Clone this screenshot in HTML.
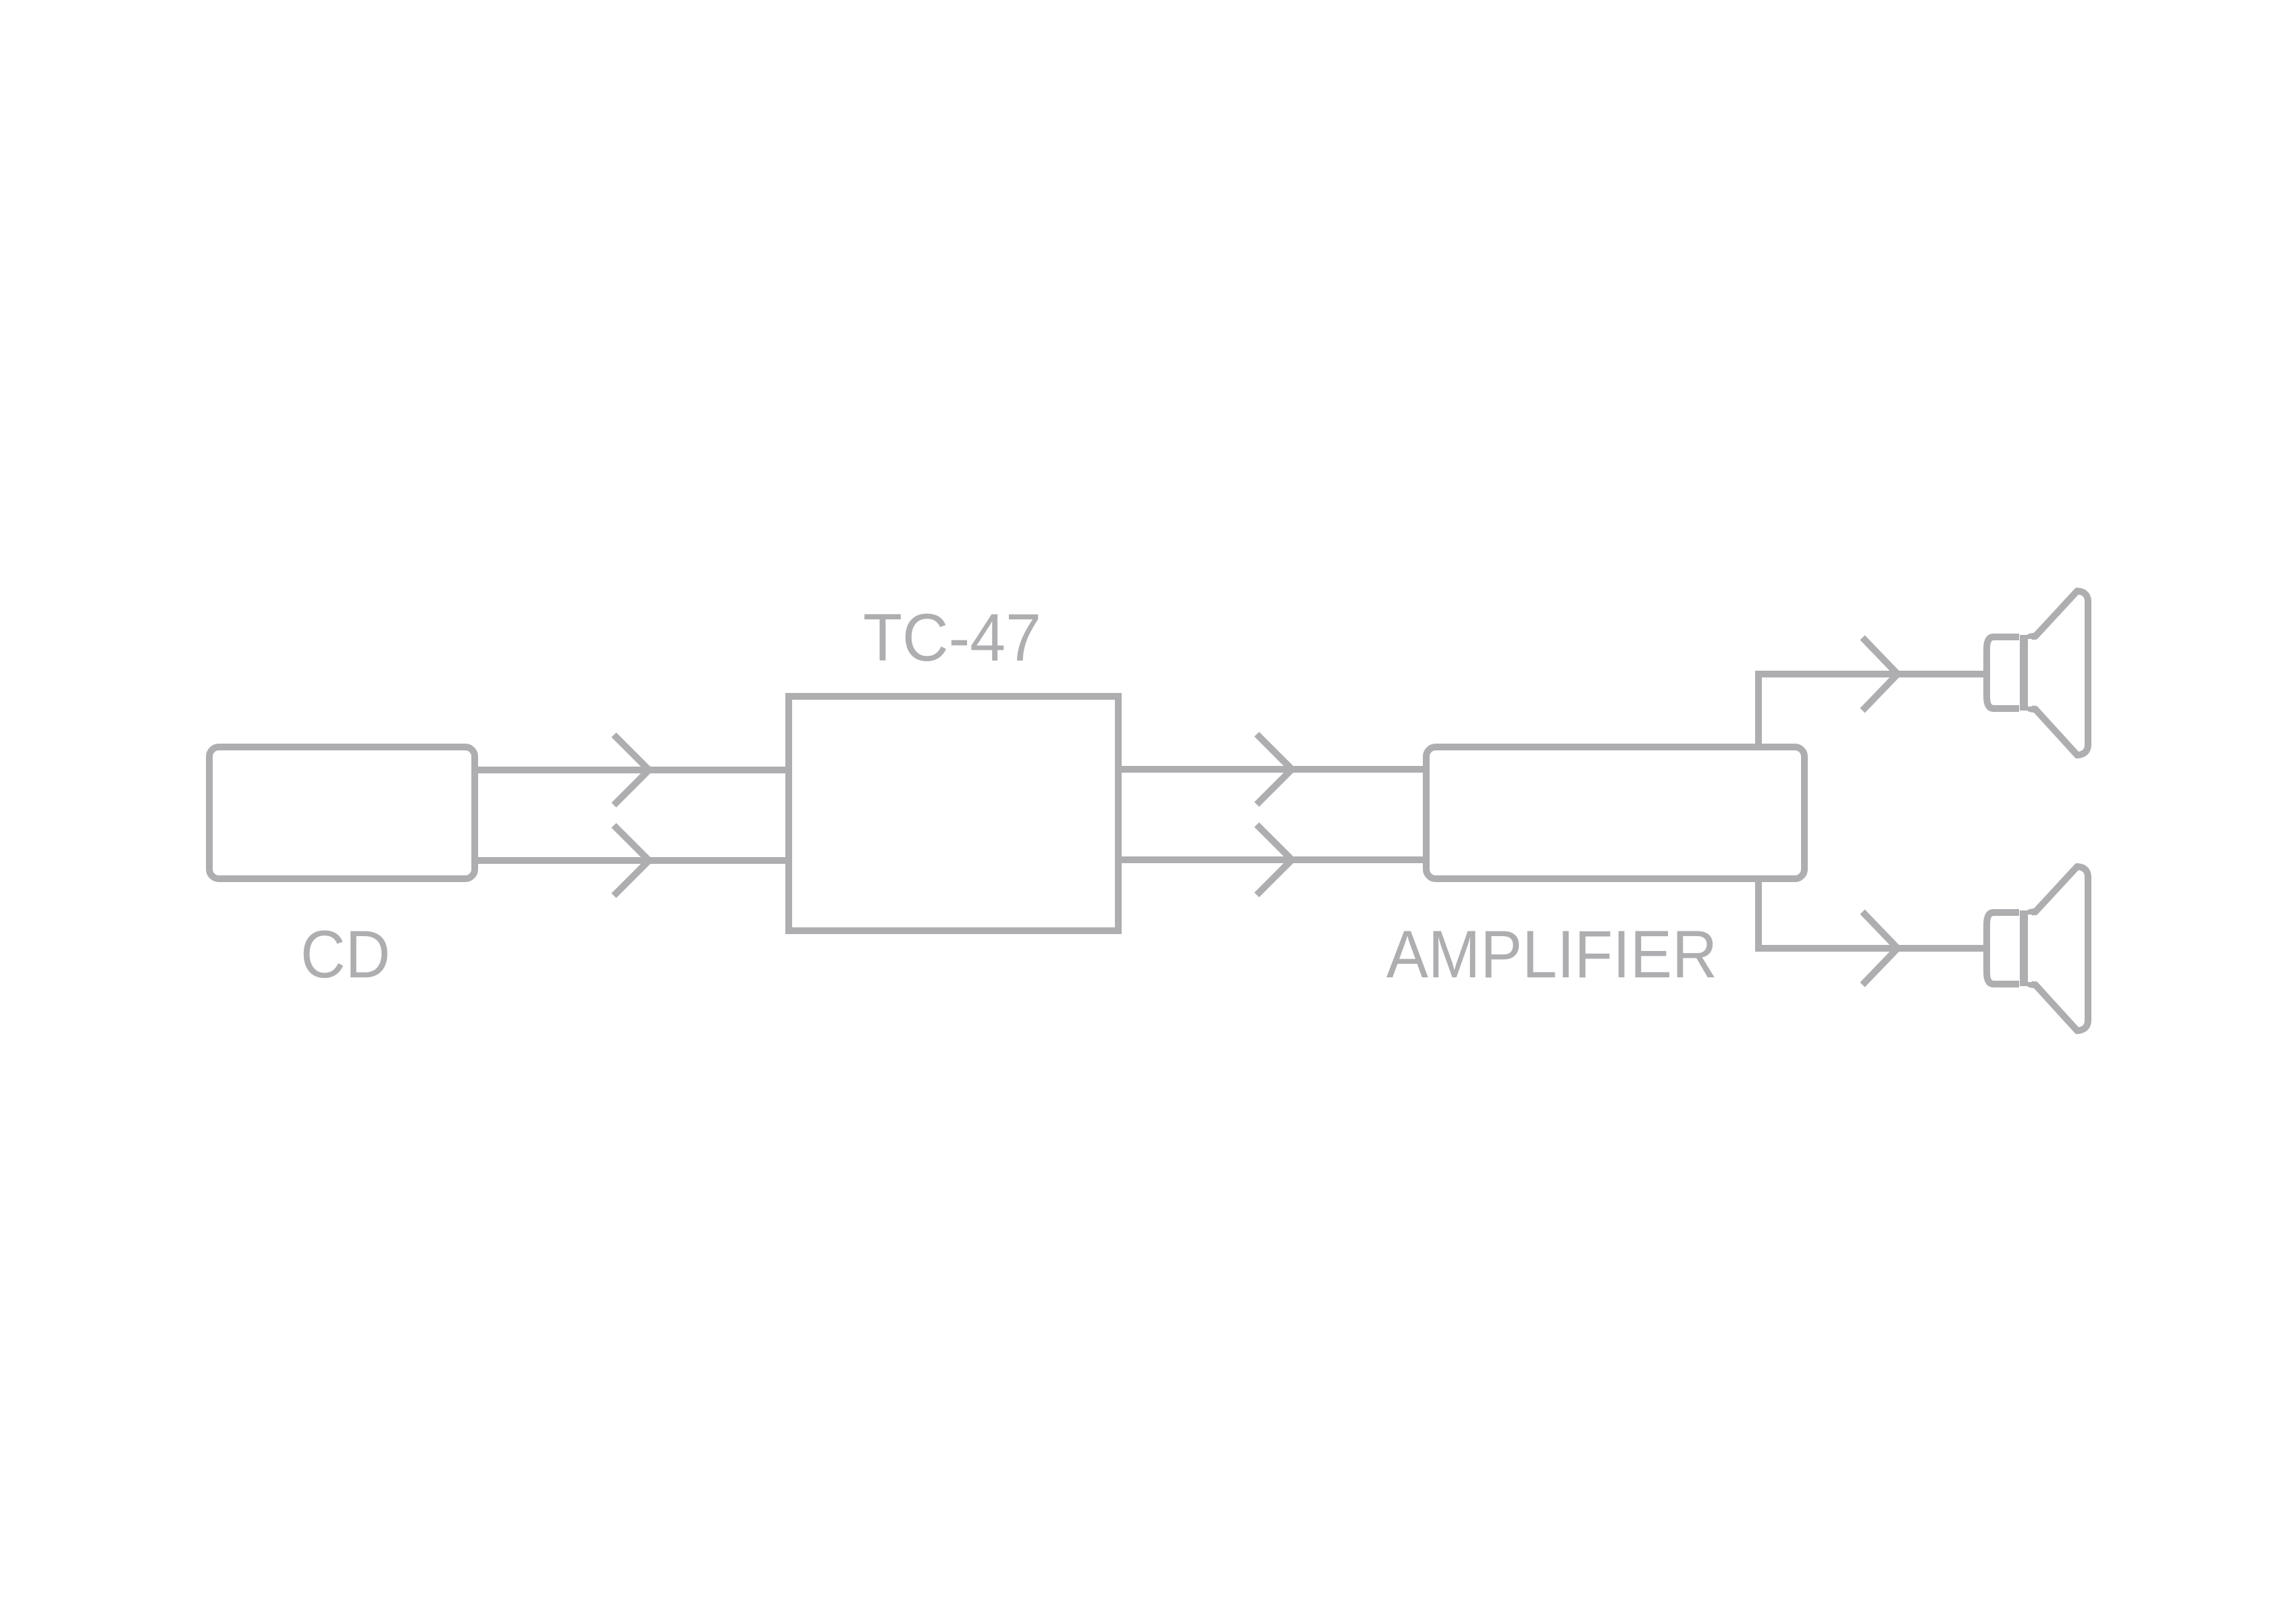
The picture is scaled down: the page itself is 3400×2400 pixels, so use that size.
<!DOCTYPE html>
<html><head><meta charset="utf-8"><style>
html,body{margin:0;padding:0;background:#fff;}
svg{display:block;}
</style></head><body>
<svg width="3400" height="2400" viewBox="0 0 3400 2400" xmlns="http://www.w3.org/2000/svg">
<g fill="none" stroke="#aeadb0" stroke-width="10" stroke-linejoin="miter">
  <rect x="310" y="1106" width="393" height="195" rx="14"/>
  <line x1="703" y1="1140" x2="1166" y2="1140"/>
  <line x1="703" y1="1274" x2="1166" y2="1274"/>
  <polyline points="909,1088 961,1140 909,1192"/>
  <polyline points="909,1222 961,1274 909,1326"/>
  <rect x="1168" y="1031" width="488" height="347"/>
  <line x1="1656" y1="1139" x2="2112" y2="1139"/>
  <line x1="1656" y1="1273" x2="2112" y2="1273"/>
  <polyline points="1861,1087 1913,1139 1861,1191"/>
  <polyline points="1861,1221 1913,1273 1861,1325"/>
  <rect x="2112" y="1106" width="560" height="195" rx="14"/>
  <polyline points="2604,1106 2604,998 2942,998"/>
  <polyline points="2604,1301 2604,1404 2942,1404"/>
  <polyline points="2758,944 2810,998 2758,1052"/>
  <polyline points="2758,1350 2810,1404 2758,1458"/>
</g>
<g fill="none" stroke="#aeadb0" stroke-width="10" stroke-linejoin="round" transform="translate(-8,-4)">
  <g id="spk">
    <path d="M2998,947 H2960 Q2950,947 2950,965 V1035 Q2950,1053 2960,1053 H2998"/>
    <line x1="3005" y1="944" x2="3005" y2="1056" stroke-width="12"/>
    <path d="M3012,950 Q3012,946 3022,946 L3084,879 Q3100,880 3100,895 V1106 Q3100,1121 3084,1122 L3022,1054 Q3012,1054 3012,1050"/>
  </g>
  <use href="#spk" transform="translate(0,408)"/>
</g>
<g fill="#aeadb0" font-family="'Liberation Sans', sans-serif" font-size="99">
  <text x="1278" y="978" textLength="264" lengthAdjust="spacingAndGlyphs">TC-47</text>
  <text x="445" y="1447" textLength="133" lengthAdjust="spacingAndGlyphs">CD</text>
  <text x="2053" y="1447" textLength="490" lengthAdjust="spacingAndGlyphs">AMPLIFIER</text>
</g>
</svg>
</body></html>
